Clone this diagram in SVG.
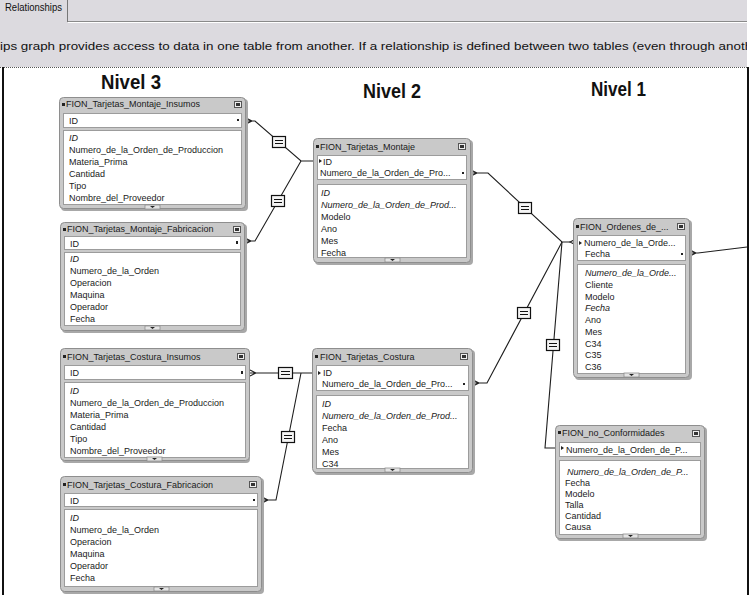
<svg xmlns="http://www.w3.org/2000/svg" width="750" height="595" viewBox="0 0 750 595">
<style>
.hdr{font-family:"Liberation Sans",Arial,sans-serif;font-size:9px;fill:#1a1a1a}
.fld{font-family:"Liberation Sans",Arial,sans-serif;font-size:9px;fill:#1a1a1a}
.it{font-style:italic}
.frame{fill:#c9c9c9;stroke:#8e8e8e;stroke-width:1}
.shadow{fill:#a8a8a8}
.box{fill:#ffffff;stroke:#9c9c9c;stroke-width:1}
.btn{fill:#eeeeee;stroke:#555;stroke-width:1}
.btnc{fill:#333}
.tab{fill:#e4e4e4;stroke:#8e8e8e;stroke-width:0.8}
.mk{fill:#222}
.conn{fill:none;stroke:#1e1e1e;stroke-width:1.1}
.eqb{fill:#f4f4f4;stroke:#111;stroke-width:1.2}
.eql{stroke:#111;stroke-width:1}
.lvl{font-family:"Liberation Sans",Arial,sans-serif;font-size:21px;font-weight:bold;fill:#111}
.ui{font-family:"Liberation Sans",Arial,sans-serif;font-size:11px;fill:#111}
</style>
<defs>
<clipPath id="clipTop"><rect x="0" y="0" width="747" height="67"/></clipPath>
</defs>
<rect x="0" y="0" width="750" height="595" fill="#ffffff"/>
<g id="toolbar" clip-path="url(#clipTop)">
<rect x="0" y="0" width="750" height="67" fill="#dcdadf"/>
<text class="ui" x="5" y="11" textLength="57" lengthAdjust="spacingAndGlyphs">Relationships</text>
<line x1="67.5" y1="0" x2="67.5" y2="22" stroke="#777"/>
<line x1="68" y1="21.5" x2="750" y2="21.5" stroke="#8a8a8a"/>
<line x1="68" y1="22.5" x2="750" y2="22.5" stroke="#ffffff"/>
<text class="ui" x="0" y="50" textLength="764" lengthAdjust="spacingAndGlyphs">ips graph provides access to data in one table from another. If a relationship is defined between two tables (even through another</text>
</g>
<line x1="0" y1="67.5" x2="750" y2="67.5" stroke="#555" stroke-dasharray="1 1"/>
<rect x="2" y="67" width="2" height="528" fill="#111"/>
<rect x="747" y="67" width="2" height="528" fill="#111"/>
<g id="levels">
<text class="lvl" x="101" y="89" textLength="60" lengthAdjust="spacingAndGlyphs">Nivel 3</text>
<text class="lvl" x="363" y="98" textLength="58" lengthAdjust="spacingAndGlyphs">Nivel 2</text>
<text class="lvl" x="591" y="96" textLength="55" lengthAdjust="spacingAndGlyphs">Nivel 1</text>
</g>
<g id="connectors">
<path class="conn" d="M246,118 L252,121 L246,124 M246,121 L255,121 L301,161 L313,161"/>
<path class="conn" d="M245,238 L251,241 L245,244 M245,241 L255,241 L301,161"/>
<path class="conn" d="M471,170 L477,173 L471,176 M471,173 L488,173 L562,242 L570,242"/>
<path class="conn" d="M576,239 L570,242 L576,245"/>
<path class="conn" d="M473,380 L479,383 L473,386 M473,383 L487,383 L562,242"/>
<path class="conn" d="M562,242 L545,448 L556,448 M561,445 L556,448 L561,451"/>
<path class="conn" d="M690,250 L696,253 L690,256 M690,253 L698,253 L747,247"/>
<path class="conn" d="M250,370 L256,373 L250,376 M250,373 L301,373 L312,373"/>
<path class="conn" d="M262,497 L268,500 L262,503 M262,500 L276,500 L301,373"/>
</g>
<g id="rel-equals">
<g><rect class="eqb" x="272.5" y="136.5" width="13" height="11"/><path class="eql" d="M275,140.5h8M275,143.5h8"/></g>
<g><rect class="eqb" x="271.5" y="195.5" width="13" height="11"/><path class="eql" d="M274,199.5h8M274,202.5h8"/></g>
<g><rect class="eqb" x="518.5" y="202.5" width="13" height="11"/><path class="eql" d="M521,206.5h8M521,209.5h8"/></g>
<g><rect class="eqb" x="517.5" y="307.5" width="13" height="11"/><path class="eql" d="M520,311.5h8M520,314.5h8"/></g>
<g><rect class="eqb" x="546.5" y="339.5" width="13" height="11"/><path class="eql" d="M549,343.5h8M549,346.5h8"/></g>
<g><rect class="eqb" x="278.5" y="367.5" width="14" height="11"/><path class="eql" d="M281,371.5h9M281,374.5h9"/></g>
<g><rect class="eqb" x="281.5" y="431.5" width="13" height="11"/><path class="eql" d="M284,435.5h8M284,438.5h8"/></g>
</g>
<g id="t-montaje-insumos">
<rect class="shadow" x="61" y="99" width="187" height="112" rx="4"/>
<rect class="frame" x="59.5" y="97.5" width="186" height="111" rx="4"/>
<rect class="mk" x="62" y="103" width="3" height="3"/>
<text class="hdr" x="66" y="107">FION_Tarjetas_Montaje_Insumos</text>
<rect class="btn" x="234.5" y="101.5" width="7" height="6"/><rect class="btnc" x="236" y="103" width="4" height="3"/>
<rect class="box" x="63.5" y="113.5" width="178" height="14"/>
<text class="fld" x="69" y="124">ID</text>
<rect class="mk" x="237" y="119" width="2" height="2"/>
<rect class="box" x="63.5" y="130.5" width="178" height="74"/>
<text class="fld it" x="69" y="141">ID</text>
<text class="fld" x="69" y="153">Numero_de_la_Orden_de_Produccion</text>
<text class="fld" x="69" y="165">Materia_Prima</text>
<text class="fld" x="69" y="177">Cantidad</text>
<text class="fld" x="69" y="189">Tipo</text>
<text class="fld" x="69" y="201">Nombre_del_Proveedor</text>
<rect class="tab" x="145" y="205" width="15" height="4"/><path class="mk" d="M150,206h5l-2.5,2z"/>
</g>
<g id="t-montaje-fabricacion">
<rect class="shadow" x="62" y="224" width="185" height="109" rx="4"/>
<rect class="frame" x="60.5" y="222.5" width="184" height="108" rx="4"/>
<rect class="mk" x="63" y="228" width="3" height="3"/>
<text class="hdr" x="67" y="232">FION_Tarjetas_Montaje_Fabricacion</text>
<rect class="btn" x="233.5" y="226.5" width="7" height="6"/><rect class="btnc" x="235" y="228" width="4" height="3"/>
<rect class="box" x="64.5" y="236.5" width="176" height="13"/>
<text class="fld" x="70" y="247">ID</text>
<rect class="mk" x="236" y="241" width="2" height="3"/>
<rect class="box" x="64.5" y="252.5" width="176" height="73"/>
<text class="fld it" x="70" y="262">ID</text>
<text class="fld" x="70" y="274">Numero_de_la_Orden</text>
<text class="fld" x="70" y="286">Operacion</text>
<text class="fld" x="70" y="298">Maquina</text>
<text class="fld" x="70" y="310">Operador</text>
<text class="fld" x="70" y="322">Fecha</text>
<rect class="tab" x="145" y="326" width="15" height="4"/><path class="mk" d="M150,327h5l-2.5,2z"/>
</g>
<g id="t-montaje">
<rect class="shadow" x="315" y="140" width="158" height="125" rx="4"/>
<rect class="frame" x="313.5" y="138.5" width="157" height="124" rx="4"/>
<rect class="mk" x="316" y="145" width="3" height="3"/>
<text class="hdr" x="320" y="150">FION_Tarjetas_Montaje</text>
<rect class="btn" x="458.5" y="143.5" width="7" height="6"/><rect class="btnc" x="460" y="145" width="4" height="3"/>
<rect class="box" x="317.5" y="155.5" width="149" height="24"/>
<path class="mk" d="M319,159l3,2l-3,2z"/>
<text class="fld" x="323" y="165">ID</text>
<text class="fld" x="320" y="176">Numero_de_la_Orden_de_Pro...</text>
<rect class="mk" x="462" y="172" width="2" height="2"/>
<rect class="box" x="317.5" y="184.5" width="149" height="73"/>
<text class="fld it" x="321" y="196">ID</text>
<text class="fld it" x="321" y="208">Numero_de_la_Orden_de_Prod...</text>
<text class="fld" x="321" y="220">Modelo</text>
<text class="fld" x="321" y="232">Ano</text>
<text class="fld" x="321" y="244">Mes</text>
<text class="fld" x="321" y="256">Fecha</text>
<rect class="tab" x="385" y="258" width="15" height="4"/><path class="mk" d="M390,259h5l-2.5,2z"/>
</g>
<g id="t-costura-insumos">
<rect class="shadow" x="62" y="350" width="188" height="113" rx="4"/>
<rect class="frame" x="60.5" y="348.5" width="189" height="112" rx="4"/>
<rect class="mk" x="63" y="355" width="3" height="3"/>
<text class="hdr" x="67" y="360">FION_Tarjetas_Costura_Insumos</text>
<rect class="btn" x="237.5" y="353.5" width="7" height="6"/><rect class="btnc" x="239" y="355" width="4" height="3"/>
<rect class="box" x="64.5" y="365.5" width="181" height="14"/>
<text class="fld" x="70" y="376">ID</text>
<rect class="mk" x="241" y="371" width="2" height="3"/>
<rect class="box" x="64.5" y="382.5" width="181" height="75"/>
<text class="fld it" x="70" y="394">ID</text>
<text class="fld" x="70" y="406">Numero_de_la_Orden_de_Produccion</text>
<text class="fld" x="70" y="418">Materia_Prima</text>
<text class="fld" x="70" y="430">Cantidad</text>
<text class="fld" x="70" y="442">Tipo</text>
<text class="fld" x="70" y="454">Nombre_del_Proveedor</text>
<rect class="tab" x="147" y="457" width="15" height="4"/><path class="mk" d="M152,458h5l-2.5,2z"/>
</g>
<g id="t-costura-fabricacion">
<rect class="shadow" x="62" y="478" width="202" height="116" rx="4"/>
<rect class="frame" x="60.5" y="476.5" width="201" height="115" rx="4"/>
<rect class="mk" x="63" y="483" width="3" height="3"/>
<text class="hdr" x="67" y="488">FION_Tarjetas_Costura_Fabricacion</text>
<rect class="btn" x="249.5" y="481.5" width="7" height="6"/><rect class="btnc" x="251" y="483" width="4" height="3"/>
<rect class="box" x="64.5" y="493.5" width="193" height="13"/>
<text class="fld" x="70" y="504">ID</text>
<rect class="mk" x="253" y="499" width="2" height="2"/>
<rect class="box" x="64.5" y="509.5" width="193" height="77"/>
<text class="fld it" x="70" y="521">ID</text>
<text class="fld" x="70" y="533">Numero_de_la_Orden</text>
<text class="fld" x="70" y="545">Operacion</text>
<text class="fld" x="70" y="557">Maquina</text>
<text class="fld" x="70" y="569">Operador</text>
<text class="fld" x="70" y="581">Fecha</text>
<rect class="tab" x="154" y="587" width="15" height="4"/><path class="mk" d="M159,588h5l-2.5,2z"/>
</g>
<g id="t-costura">
<rect class="shadow" x="314" y="350" width="161" height="125" rx="4"/>
<rect class="frame" x="312.5" y="348.5" width="160" height="124" rx="4"/>
<rect class="mk" x="315" y="355" width="3" height="3"/>
<text class="hdr" x="320" y="360">FION_Tarjetas_Costura</text>
<rect class="btn" x="460.5" y="353.5" width="7" height="6"/><rect class="btnc" x="462" y="355" width="4" height="3"/>
<rect class="box" x="316.5" y="365.5" width="152" height="25"/>
<path class="mk" d="M318,371l3,2l-3,2z"/>
<text class="fld" x="323" y="376">ID</text>
<text class="fld" x="322" y="387">Numero_de_la_Orden_de_Pro...</text>
<rect class="mk" x="463" y="383" width="2" height="2"/>
<rect class="box" x="316.5" y="395.5" width="152" height="73"/>
<text class="fld it" x="322" y="407">ID</text>
<text class="fld it" x="322" y="419">Numero_de_la_Orden_de_Prod...</text>
<text class="fld" x="322" y="431">Fecha</text>
<text class="fld" x="322" y="443">Ano</text>
<text class="fld" x="322" y="455">Mes</text>
<text class="fld" x="322" y="467">C34</text>
<rect class="tab" x="385" y="468" width="15" height="4"/><path class="mk" d="M390,469h5l-2.5,2z"/>
</g>
<g id="t-ordenes">
<rect class="shadow" x="575" y="220" width="117" height="160" rx="4"/>
<rect class="frame" x="573.5" y="218.5" width="116" height="159" rx="4"/>
<rect class="mk" x="576" y="225" width="3" height="3"/>
<text class="hdr" x="580" y="230">FION_Ordenes_de_...</text>
<rect class="btn" x="677.5" y="223.5" width="7" height="6"/><rect class="btnc" x="679" y="225" width="4" height="3"/>
<rect class="box" x="577.5" y="235.5" width="108" height="25"/>
<path class="mk" d="M579,241l3,2l-3,2z"/>
<text class="fld" x="584" y="246">Numero_de_la_Orde...</text>
<text class="fld" x="585" y="257">Fecha</text>
<rect class="mk" x="681" y="253" width="2" height="2"/>
<rect class="box" x="577.5" y="264.5" width="108" height="109"/>
<text class="fld it" x="585" y="276">Numero_de_la_Orde...</text>
<text class="fld" x="585" y="288">Cliente</text>
<text class="fld" x="585" y="300">Modelo</text>
<text class="fld it" x="585" y="311">Fecha</text>
<text class="fld" x="585" y="323">Ano</text>
<text class="fld" x="585" y="335">Mes</text>
<text class="fld" x="585" y="347">C34</text>
<text class="fld" x="585" y="358">C35</text>
<text class="fld" x="585" y="370">C36</text>
<rect class="tab" x="624" y="373" width="15" height="4"/><path class="mk" d="M629,374h5l-2.5,2z"/>
</g>
<g id="t-no-conformidades">
<rect class="shadow" x="557" y="427" width="150" height="114" rx="4"/>
<rect class="frame" x="555.5" y="425.5" width="149" height="113" rx="4"/>
<rect class="mk" x="558" y="431" width="3" height="3"/>
<text class="hdr" x="562" y="436">FION_no_Conformidades</text>
<rect class="btn" x="692.5" y="430.5" width="7" height="6"/><rect class="btnc" x="694" y="432" width="4" height="3"/>
<rect class="box" x="559.5" y="442.5" width="141" height="14"/>
<path class="mk" d="M561,446l3,2l-3,2z"/>
<text class="fld" x="566" y="453">Numero_de_la_Orden_de_P...</text>
<rect class="box" x="559.5" y="460.5" width="141" height="74"/>
<text class="fld it" x="567" y="475">Numero_de_la_Orden_de_P...</text>
<text class="fld" x="565" y="486">Fecha</text>
<text class="fld" x="565" y="497">Modelo</text>
<text class="fld" x="565" y="508">Talla</text>
<text class="fld" x="565" y="519">Cantidad</text>
<text class="fld" x="565" y="530">Causa</text>
<rect class="tab" x="623" y="534" width="15" height="4"/><path class="mk" d="M628,535h5l-2.5,2z"/>
</g>
</svg>
